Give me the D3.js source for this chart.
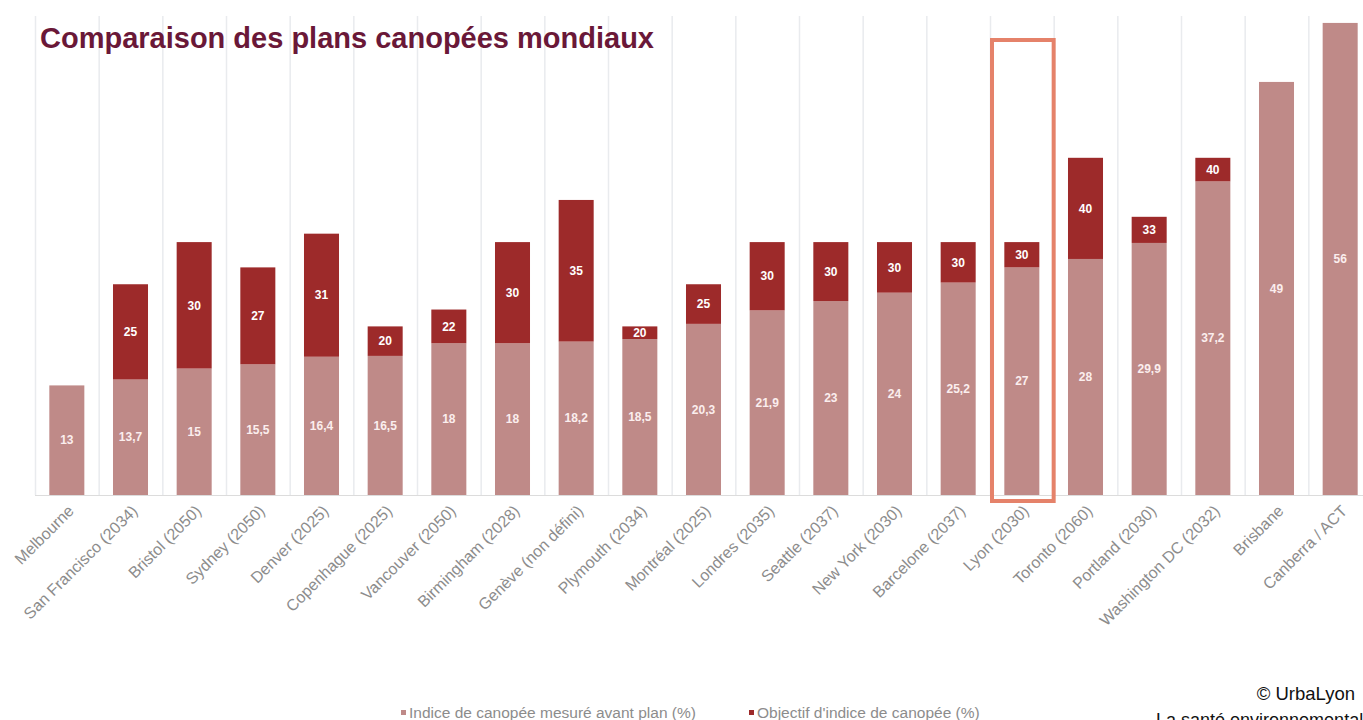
<!DOCTYPE html>
<html>
<head>
<meta charset="utf-8">
<script src="https://cdn.jsdelivr.net/npm/d3@7"></script>
<style>
  body { margin: 0; background: #fff; }
  svg { display: block; }
</style>
</head>
<body>
<script>
const cities = ['Melbourne', 'San Francisco (2034)', 'Bristol (2050)', 'Sydney (2050)', 'Denver (2025)',
    'Copenhague (2025)', 'Vancouver (2050)', 'Birmingham (2028)', 'Genève (non défini)', 'Plymouth (2034)',
    'Montréal (2025)', 'Londres (2035)', 'Seattle (2037)', 'New York (2030)', 'Barcelone (2037)',
    'Lyon (2030)', 'Toronto (2060)', 'Portland (2030)', 'Washington DC (2032)', 'Brisbane', 'Canberra / ACT']

// indice mesuré avant plan (%)
const measured = [13, 13.7, 15, 15.5, 16.4, 16.5, 18, 18, 18.2, 18.5,
    20.3, 21.9, 23, 24, 25.2, 27, 28, 29.9, 37.2, 49, 56]

// objectif d'indice (%), null = pas d'objectif
const target = [null, 25, 30, 27, 31, 20, 22, 30, 35, 20,
    25, 30, 30, 30, 30, 30, 40, 33, 40, null, null]

const legendLabels = ['Indice de canopée mesuré avant plan (%)', "Objectif d'indice de canopée (%)"]
const highlighted = 'Lyon (2030)'

const colors = { measured: '#bf8a88', target: '#9d2a2a' }
const W = 1363, H = 720
const base = 495

const rows = cities.map((c, i) => ({ city: c, m: measured[i], t: target[i] }))
const fmt = v => String(v).replace('.', ',')

const svg = d3.select('body').append('svg').attr('width', W).attr('height', H)

const xGrid = d3.scaleBand().domain(cities).range([35, 1372]).padding(0)
const x = d3.scaleBand().domain(cities).range([35, 1372]).paddingInner(0.45).paddingOuter(0.225)
const y = d3.scaleLinear().domain([0, 56]).range([base, base - 56 * 8.43])

// vertical grid
svg.append('g').selectAll('line')
    .data(cities)
    .join('line')
    .attr('x1', d => xGrid(d) + 0.5).attr('x2', d => xGrid(d) + 0.5)
    .attr('y1', 16).attr('y2', base)
    .attr('stroke', '#e9ebee').attr('stroke-width', 1.5)

svg.append('line')
    .attr('x1', 35).attr('x2', W).attr('y1', base + 0.5).attr('y2', base + 0.5)
    .attr('stroke', '#dcdcdc')

const bars = svg.append('g')

bars.selectAll('rect.m')
    .data(rows)
    .join('rect')
    .attr('class', 'm')
    .attr('x', d => x(d.city)).attr('width', x.bandwidth())
    .attr('y', d => y(d.m)).attr('height', d => base - y(d.m))
    .attr('fill', colors.measured)

bars.selectAll('rect.t')
    .data(rows.filter(d => d.t !== null))
    .join('rect')
    .attr('class', 't')
    .attr('x', d => x(d.city)).attr('width', x.bandwidth())
    .attr('y', d => y(d.t)).attr('height', d => y(d.m) - y(d.t))
    .attr('fill', colors.target)

const font = 'Liberation Sans, Arial, sans-serif'

bars.selectAll('text.m')
    .data(rows)
    .join('text')
    .attr('class', 'm')
    .attr('x', d => x(d.city) + x.bandwidth() / 2)
    .attr('y', d => (y(d.m) + base) / 2)
    .attr('dy', '0.35em')
    .attr('text-anchor', 'middle')
    .style('font-family', font).style('font-size', '12px').style('font-weight', 'bold')
    .attr('fill', '#fbeeee')
    .text(d => fmt(d.m))

bars.selectAll('text.t')
    .data(rows.filter(d => d.t !== null))
    .join('text')
    .attr('class', 't')
    .attr('x', d => x(d.city) + x.bandwidth() / 2)
    .attr('y', d => (y(d.t) + y(d.m)) / 2)
    .attr('dy', '0.35em')
    .attr('text-anchor', 'middle')
    .style('font-family', font).style('font-size', '12px').style('font-weight', 'bold')
    .attr('fill', '#fff')
    .text(d => fmt(d.t))

// category labels
svg.append('g').selectAll('text')
    .data(cities)
    .join('text')
    .attr('transform', d => `translate(${x(d) + x.bandwidth() / 2 + 8},${base + 17}) rotate(-45)`)
    .attr('text-anchor', 'end')
    .style('font-family', font).style('font-size', '16px')
    .attr('fill', '#8c8c8c')
    .text(d => d)

// highlight Lyon
svg.append('rect')
    .attr('x', xGrid(highlighted) + 2).attr('width', xGrid.bandwidth() - 2)
    .attr('y', 40).attr('height', 461)
    .attr('fill', 'none').attr('stroke', '#e5826a').attr('stroke-width', 4)

// title
svg.append('text')
    .attr('x', 40).attr('y', 48)
    .style('font-family', font).style('font-size', '29px').style('font-weight', 'bold')
    .attr('fill', '#6a1838')
    .text('Comparaison des plans canopées mondiaux')

// legend
const legend = svg.append('g').selectAll('g')
    .data(legendLabels)
    .join('g')
    .attr('transform', (d, i) => `translate(${[401, 749][i]},${718})`)
legend.append('rect')
    .attr('x', 0).attr('y', -8).attr('width', 5).attr('height', 5)
    .attr('fill', (d, i) => i === 0 ? colors.measured : colors.target)
legend.append('text')
    .attr('x', 8).attr('y', 0)
    .style('font-family', font).style('font-size', '15.5px')
    .attr('fill', '#8c8c8c')
    .text(d => d)

// credits
svg.append('text')
    .attr('x', 1355).attr('y', 700).attr('text-anchor', 'end')
    .style('font-family', font).style('font-size', '18.5px')
    .attr('fill', '#111')
    .text('© UrbaLyon')
svg.append('text')
    .attr('x', 1156).attr('y', 726)
    .style('font-family', font).style('font-size', '18px')
    .attr('fill', '#111')
    .text('La santé environnementale')
</script>
</body>
</html>
